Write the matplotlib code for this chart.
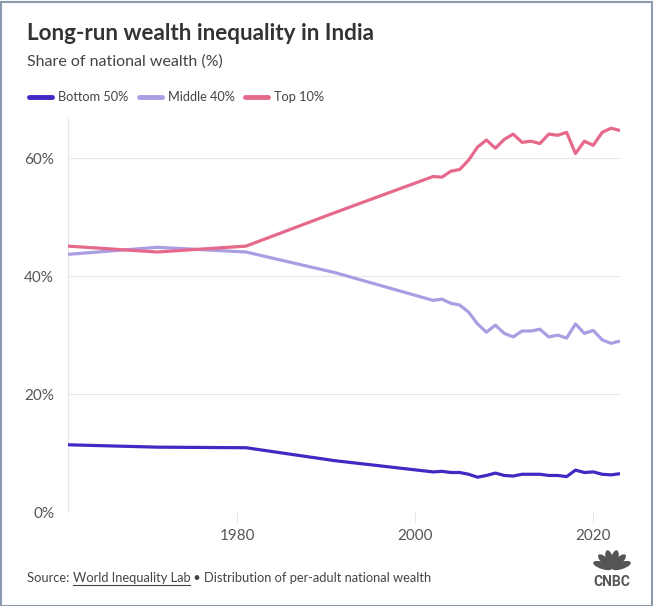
import numpy as np
import matplotlib
matplotlib.use("Agg")
import matplotlib.pyplot as plt
from matplotlib.lines import Line2D
from matplotlib.patches import Rectangle, Ellipse

plt.rcParams['font.family'] = ['Lato', 'DejaVu Sans']

# Data (share of national wealth, %)
years = [1961, 1971, 1981, 1991] + list(range(2002, 2024))
bottom50 = [11.4, 11.0, 10.9, 8.7,
            6.8, 6.9, 6.7, 6.7, 6.4, 5.9, 6.2, 6.6, 6.2, 6.1, 6.4,
            6.4, 6.4, 6.2, 6.2, 6.0, 7.1, 6.7, 6.8, 6.4, 6.3, 6.5]
middle40 = [43.7, 44.9, 44.1, 40.6,
            35.9, 36.1, 35.4, 35.1, 33.9, 31.9, 30.5, 31.7, 30.3, 29.7, 30.7,
            30.7, 31.0, 29.7, 30.0, 29.5, 31.9, 30.3, 30.8, 29.2, 28.6, 29.0]
top10 = [45.1, 44.1, 45.1, 50.8,
         56.9, 56.8, 57.8, 58.1, 59.7, 61.9, 63.1, 61.7, 63.2, 64.1, 62.7,
         62.9, 62.5, 64.1, 63.9, 64.4, 60.8, 62.9, 62.2, 64.4, 65.1, 64.7]

series_names = ["Bottom 50%", "Middle 40%", "Top 10%"]
colors = ["#4527c4", "#aa9ee2", "#e6698c"]
yticks = [0, 20, 40, 60]
xticks = [1980, 2000, 2020]

W, H = 653, 606
fig = plt.figure(figsize=(W / 100, H / 100), dpi=100)

# axes placed in pixel terms
left, right, top, bottom = 68, 620, 117, 512
ax = fig.add_axes([left / W, 1 - bottom / H, (right - left) / W, (bottom - top) / H])

for vals, c in zip([bottom50, middle40, top10], colors):
    ax.plot(years, vals, color=c, lw=2.3, solid_joinstyle='round', solid_capstyle='butt', zorder=3)

ax.set_xlim(1961, 2023)
ax.set_ylim(0, 67)
ax.set_yticks(yticks)
ax.set_yticklabels([f"{v}%" for v in yticks])
ax.set_xticks(xticks)
ax.set_xticklabels([str(v) for v in xticks])
ax.grid(axis='y', color='#e6e6e6', lw=0.8)
ax.set_axisbelow(True)
for s in ['top', 'right', 'bottom']:
    ax.spines[s].set_visible(False)
ax.spines['left'].set_color('#e6e6e6')
ax.spines['left'].set_linewidth(0.8)
ax.tick_params(axis='y', length=0, pad=10, labelsize=11, labelcolor='#555555')
ax.tick_params(axis='x', length=8, width=0.8, color='#e6e6e6', pad=4, labelsize=11, labelcolor='#555555')

# title, subtitle
fig.text(27 / W, 1 - 33 / H, "Long-run wealth inequality in India", fontsize=16.2,
         fontweight='bold', color='#333333', va='center', ha='left')
fig.text(27 / W, 1 - 62 / H, "Share of national wealth (%)", fontsize=11.5,
         color='#444444', va='center', ha='left')

# legend
leg_x = [27, 137, 243]
for x0, name, c in zip(leg_x, series_names, colors):
    fig.add_artist(Line2D([(x0 + 2) / W, (x0 + 25) / W], [1 - 97 / H, 1 - 97 / H],
                          color=c, lw=3.5, solid_capstyle='round'))
    fig.text((x0 + 31) / W, 1 - 97 / H, name, fontsize=9.2, color='#444444',
             va='center', ha='left')

# source line
fig.canvas.draw()
r = fig.canvas.get_renderer()
sy = 1 - 578 / H
t1 = fig.text(27 / W, sy, "Source: ", fontsize=9.3, color='#444444', va='center', ha='left')
bb = t1.get_window_extent(r)
t2 = fig.text(bb.x1 / W, sy, "World Inequality Lab", fontsize=9.3, color='#444444',
              va='center', ha='left')
bb2 = t2.get_window_extent(r)
fig.add_artist(Line2D([bb2.x0 / W, bb2.x1 / W], [(bb2.y0 - 1) / H, (bb2.y0 - 1) / H],
                      color='#444444', lw=0.8))
fig.text(bb2.x1 / W, sy, " \u2022 Distribution of per-adult national wealth", fontsize=9.3,
         color='#444444', va='center', ha='left')

# CNBC logo (rough peacock)
cx, cy = 612, 569
for ang in np.linspace(-70, 70, 6):
    a = np.deg2rad(ang)
    ex = cx + 10 * np.sin(a)
    ey = cy - 10 * np.cos(a)
    fig.add_artist(Ellipse((ex / W, 1 - ey / H), 6 / W, 17 / H, angle=-ang,
                           color='#555555', transform=fig.transFigure))
fig.text(612 / W, 1 - 582 / H, "CNBC", fontsize=10, fontweight='bold', color='#555555',
         va='center', ha='center', family=['Roboto', 'DejaVu Sans'])

# outer frame
fig.add_artist(Rectangle((0.5 / W, 0.5 / H), (W - 2) / W, (H - 2) / H, fill=False,
                         edgecolor='#8a9bb0', lw=1.5, transform=fig.transFigure))

fig.savefig("out.png", dpi=100)
